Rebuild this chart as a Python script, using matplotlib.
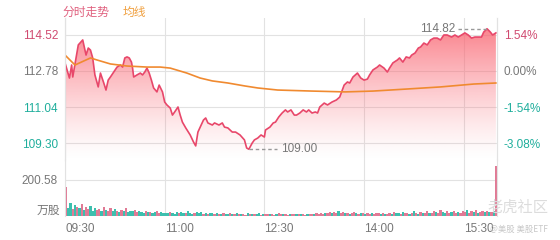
## intraday chart: price + average line + volume
import numpy as np
import matplotlib
matplotlib.use('Agg')
import matplotlib.pyplot as plt
from matplotlib.patches import Polygon

plt.rcParams['font.family'] = ['Liberation Sans', 'Noto Sans CJK SC']

# minutes after 09:30 and price
price_t = [0, 4, 6, 7, 12, 16, 19, 21, 23, 25, 27, 30, 32, 35, 37, 39, 41, 44, 47, 50,
           52, 54, 56, 58, 60, 61, 62, 65, 68, 70, 72, 74, 76, 78, 80, 83, 85, 88, 90, 92,
           95, 97, 99, 102, 104, 106, 109, 113, 116, 118, 120, 125, 127, 129, 133, 135, 139, 142, 144, 147,
           151, 154, 158, 162, 164, 166, 169, 171, 174, 177, 180, 181, 185, 188, 190, 193, 196, 199, 201, 204,
           207, 209, 212, 215, 218, 220, 223, 226, 228, 230, 234, 237, 241, 245, 248, 252, 255, 257, 260, 264,
           267, 270, 273, 275, 278, 282, 284, 288, 291, 293, 296, 300, 302, 305, 308, 311, 313, 316, 319, 321,
           324, 327, 330, 333, 336, 339, 342, 345, 349, 352, 355, 358, 361, 364, 367, 370, 373, 376, 378, 381,
           384, 386, 389]
price = [113.17, 112.44, 113.07, 112.49, 114.04, 114.28, 113.55, 113.89, 113.79, 113.41, 112.59, 112.01, 112.68, 112.20, 111.86, 112.34, 112.49, 112.73, 112.97, 113.07,
         112.97, 113.41, 113.46, 113.41, 113.21, 112.92, 112.49, 112.59, 112.68, 112.59, 112.73, 112.92, 112.68, 112.34, 111.96, 111.77, 112.10, 111.77, 111.28, 111.14,
         110.99, 110.65, 110.80, 111.04, 110.65, 110.31, 110.03, 109.69, 109.35, 109.16, 109.83, 110.41, 110.51, 110.27, 110.17, 110.27, 110.17, 110.27, 110.07, 110.03,
         109.83, 109.83, 109.69, 109.45, 109.06, 109.00, 109.30, 109.45, 109.54, 109.69, 109.59, 109.93, 110.07, 110.27, 110.31, 110.56, 110.75, 110.90, 110.80, 110.90,
         110.65, 110.65, 110.75, 110.90, 110.80, 110.90, 110.75, 110.80, 110.75, 111.04, 111.23, 111.14, 111.28, 111.38, 111.52, 112.10, 112.25, 112.20, 112.49, 112.68,
         112.44, 112.34, 112.39, 112.59, 112.83, 112.97, 113.07, 112.92, 112.73, 112.92, 113.17, 113.31, 113.41, 113.21, 113.46, 113.41, 113.55, 113.65, 113.89, 113.94,
         114.13, 114.04, 114.28, 114.37, 114.37, 114.28, 114.52, 114.52, 114.42, 114.52, 114.42, 114.52, 114.62, 114.52, 114.37, 114.42, 114.42, 114.42, 114.66, 114.82,
         114.66, 114.52, 114.62]

avg_t = [0, 9, 23, 29, 41, 56, 74, 86, 95, 110, 122, 133, 147, 162, 174, 192, 223, 253, 278, 309, 339, 369, 389]
avg = [113.55, 113.07, 113.41, 113.31, 113.12, 113.02, 112.97, 112.97, 112.92, 112.68, 112.44, 112.30, 112.20, 112.06, 111.96, 111.86, 111.81, 111.77, 111.81, 111.91, 112.01, 112.15, 112.20]

price_ticks = [114.52, 112.78, 111.04, 109.30]
pct_labels = ['1.54%', '0.00%', '-1.54%', '-3.08%']
time_ticks = [0, 90, 180, 270, 360]
time_labels = ['09:30', '11:00', '12:30', '14:00', '15:30']

# volume (万股), 2-minute bins, and up/down flag
volume = [160, 45, 70, 38, 60, 52, 42, 66, 35, 48, 40, 55, 30, 44, 36,
          40, 28, 52, 33, 30, 45, 26, 38, 30, 24, 34, 28, 42, 22, 30,
          26, 34, 22, 30, 25, 18, 28, 20, 24, 16, 22, 30, 18, 20, 15,
          18, 14, 22, 16, 12, 20, 15, 24, 18, 14, 26, 16, 12, 18, 22,
          14, 20, 12, 16, 10, 14, 18, 11, 15, 12, 10, 16, 13, 9, 14,
          12, 10, 15, 9, 13, 11, 8, 14, 10, 12, 9, 11, 14, 8, 12,
          10, 13, 9, 12, 8, 11, 14, 9, 10, 12, 8, 11, 9, 13, 10,
          9, 12, 10, 8, 13, 11, 9, 12, 14, 10, 16, 12, 18, 14, 20,
          15, 22, 18, 26, 16, 20, 14, 18, 12, 16, 20, 14, 12, 18, 15,
          13, 17, 12, 15, 11, 16, 14, 12, 18, 13, 10, 15, 12, 20, 14,
          16, 12, 22, 14, 18, 13, 16, 26, 15, 12, 20, 16, 14, 28, 17,
          18, 30, 22, 16, 34, 20, 18, 26, 15, 22, 30, 18, 24, 16, 28,
          20, 32, 18, 26, 22, 34, 19, 24, 28, 20, 30, 24, 22, 26, 280]
updown = ("rggrgrgrgrrgggr" "rgrgrrggrgrgrgg" "grrgggrgrggrrgg" "ggrgggrggrgggrg"
          "ggrgrggrgrgrggr" "grgrgrrgrgrggrg" "rrgrrgrrgrrgrrg" "rgrrgrrgrrrrgrr"
          "grrgrrgrgrrgrgr" "grrgrrrgrgrrgrg" "grgrrgrgrgrgrrg" "rrgrrggrrgrrgrr"
          "rgrrgrgrrgrgrgr")
vol_tick = 200.58

RED = '#e8476a'
TEAL = '#1fae9c'
GREY = '#777777'
GRID = '#e2e2e2'

W, H = 560, 240
fig = plt.figure(figsize=(W / 100, H / 100), dpi=100)
ax = fig.add_axes([65 / W, 1 - 160 / H, 432 / W, 142 / H])
axv = fig.add_axes([65 / W, 1 - 216 / H, 432 / W, 56 / H])

ymin, ymax = 108.48, 115.34
ax.set_xlim(0, 390)
ax.set_ylim(ymin, ymax)

# gradient fill under the price line
verts = [(price_t[0], ymin)] + list(zip(price_t, price)) + [(price_t[-1], ymin)]
poly = Polygon(verts, closed=True, facecolor='none', edgecolor='none')
ax.add_patch(poly)
grad = np.zeros((200, 1, 4))
grad[:, 0, 0] = 0.98
grad[:, 0, 1] = 0.40
grad[:, 0, 2] = 0.45
grad[:, 0, 3] = np.linspace(0.85, 0.0, 200) ** 1.3
im = ax.imshow(grad, extent=[0, 390, ymin, 114.9], aspect='auto', origin='upper', zorder=1)
im.set_clip_path(poly)

ax.plot(price_t, price, color=RED, lw=1.2, zorder=3)
ax.plot(avg_t, avg, color='#f08a30', lw=1.2, zorder=4)

# max / min markers
ax.plot([355, 381], [114.82, 114.82], color='#999999', lw=1, ls=(0, (2.5, 2)), zorder=5)
ax.text(352, 114.82, '114.82', ha='right', va='center', color=GREY, fontsize=8.5)
ax.plot([166, 191], [109.00, 109.00], color='#999999', lw=1, ls=(0, (2.5, 2)), zorder=5)
ax.text(195, 109.00, '109.00', ha='left', va='center', color=GREY, fontsize=8.5)

ax.set_yticks(price_ticks)
ax.set_yticklabels(['%.2f' % p for p in price_ticks])
for lab, c in zip(ax.get_yticklabels(), ['#d04a70', GREY, TEAL, TEAL]):
    lab.set_color(c)
ax.set_xticks(time_ticks)
ax.set_xticklabels([])
ax.tick_params(length=0, labelsize=8.5, pad=5)
ax.grid(True, color=GRID, lw=0.8, zorder=0)
ax.set_axisbelow(True)

ax2 = ax.twinx()
ax2.set_ylim(ymin, ymax)
ax2.set_yticks(price_ticks)
ax2.set_yticklabels(pct_labels)
for lab, c in zip(ax2.get_yticklabels(), ['#d04a70', GREY, TEAL, TEAL]):
    lab.set_color(c)
ax2.tick_params(length=0, labelsize=8.5, pad=5)

for a in (ax, ax2):
    for s in ('top', 'bottom'):
        a.spines[s].set_visible(False)
    a.spines['left'].set_color(GRID)
    a.spines['right'].set_color(GRID)

# volume
vt = np.arange(len(volume)) * 2
colors = ['#e07a95' if c == 'r' else '#3dbfae' for c in updown]
axv.bar(vt, volume, width=2, align='edge', color=colors, lw=0, zorder=2)
axv.set_xlim(0, 390)
axv.set_ylim(0, 312)
axv.set_yticks([vol_tick])
axv.set_yticklabels(['%.2f' % vol_tick])
axv.set_xticks(time_ticks)
axv.set_xticklabels(time_labels, ha='left')
axv.tick_params(length=0, labelsize=8.5, pad=5, colors=GREY)
axv.grid(True, color=GRID, lw=0.8, zorder=0)
axv.set_axisbelow(True)
for s in ('top', 'bottom'):
    axv.spines[s].set_visible(False)
axv.spines['left'].set_color(GRID)
axv.spines['right'].set_color(GRID)

fig.text(60 / W, 1 - 210 / H, '万股', ha='right', va='center', color=GREY, fontsize=8.5,
         family=['Noto Sans CJK SC'])
fig.text(62 / W, 1 - 12 / H, '分时走势', ha='left', va='center', color='#e0607e', fontsize=8.5,
         family=['Noto Sans CJK SC'])
fig.text(123 / W, 1 - 12 / H, '均线', ha='left', va='center', color='#f0a040', fontsize=8.5,
         family=['Noto Sans CJK SC'])

# watermark
fig.text(548 / W, 1 - 207 / H, '老虎社区', ha='right', va='center', color='#dcdcdc', fontsize=11,
         family=['Noto Sans CJK SC'])
fig.text(548 / W, 1 - 229 / H, '@美股 美股ETF', ha='right', va='center', color='#c8c8c8', fontsize=6,
         family=['Noto Sans CJK SC', 'DejaVu Sans'])

fig.savefig('out.png', dpi=100)
